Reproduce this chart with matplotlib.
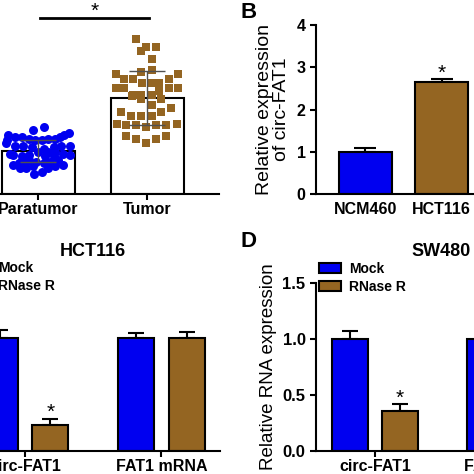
import numpy as np
import matplotlib
matplotlib.use('Agg')
import matplotlib.pyplot as plt

plt.rcParams['font.family'] = ['Liberation Sans', 'DejaVu Sans']

blue = '#0000F0'
brown = '#946522'

# panel A: individual samples (value, jitter offset)
para_vals = [1.54, 1.47, 1.41, 1.37, 1.37, 1.33, 1.31, 1.31, 1.27, 1.27, 1.27, 1.26, 1.26, 1.26,
             1.19, 1.12, 1.12, 1.10, 1.10, 1.08, 1.08, 1.05, 0.98, 0.98, 0.98, 0.93, 0.93, 0.91,
             0.91, 0.91, 0.88, 0.88, 0.88, 0.79, 0.79, 0.79, 0.75, 0.75, 0.71, 0.71, 0.71, 0.66,
             0.66, 0.64, 0.64, 0.60, 0.60, 0.60, 0.52, 0.47]
para_off = [0.05, -0.05, 0.28, -0.28, 0.24, -0.21, -0.15, 0.20, -0.09, 0.09, 0.15, -0.29, -0.03, 0.03,
            -0.30, -0.21, 0.29, -0.14, 0.21, -0.06, 0.14, 0.05, 0.0, 0.09, 0.15, -0.26, 0.23, -0.23,
            -0.09, 0.29, -0.15, 0.06, 0.14, -0.15, -0.09, 0.18, -0.02, 0.11, -0.18, -0.12, 0.05, -0.23,
            0.23, -0.05, 0.15, -0.17, -0.11, 0.09, 0.03, -0.04]
tumor_vals = [3.58, 3.40, 3.40, 3.31, 3.12, 2.87, 2.82, 2.77, 2.77, 2.67, 2.67, 2.67, 2.57, 2.57, 2.57,
              2.46, 2.46, 2.46, 2.46, 2.38, 2.30, 2.30, 2.30, 2.26, 2.19, 2.19, 2.05, 1.99, 1.89, 1.89,
              1.80, 1.80, 1.80, 1.63, 1.63, 1.60, 1.60, 1.60, 1.60, 1.55, 1.35, 1.35, 1.27, 1.27, 1.18]
tumor_off = [-0.10, -0.01, 0.08, -0.06, 0.04, 0.04, -0.06, -0.29, 0.28, -0.21, -0.13, 0.20, -0.05, 0.04, 0.11,
             -0.29, -0.21, 0.20, 0.28, 0.11, -0.13, -0.06, 0.04, -0.14, 0.13, -0.06, 0.04, 0.22, -0.24, 0.13,
             -0.15, -0.06, 0.04, -0.28, 0.27, -0.19, -0.10, 0.08, 0.17, -0.01, -0.19, 0.17, -0.10, 0.08, -0.01]
a_groups = ['Paratumor', 'Tumor']
a_means = [1.0, 2.22]
a_sd = [0.25, 0.62]

# panel B
b_groups = ['NCM460', 'HCT116']
b_vals = [1.0, 2.64]
b_err = [0.08, 0.08]

# panels C and D
genes = ['circ-FAT1', 'FAT1 mRNA']
c_mock = [1.0, 1.0]
c_mock_err = [0.07, 0.05]
c_rnase = [0.23, 1.0]
c_rnase_err = [0.05, 0.06]
d_mock = [1.0, 1.0]
d_mock_err = [0.07, 0.05]
d_rnase = [0.36, 1.0]
d_rnase_err = [0.06, 0.06]

W = 474.0
fig = plt.figure(figsize=(4.74, 4.74), dpi=100)


def rect(left, top, right, bottom):
    return [left / W, 1 - bottom / W, (right - left) / W, (bottom - top) / W]


def style(ax, left_spine=True):
    ax.spines['top'].set_visible(False)
    ax.spines['right'].set_visible(False)
    ax.spines['left'].set_visible(left_spine)
    for s in ax.spines.values():
        s.set_linewidth(1.5)
    ax.tick_params(direction='out', length=4, width=1.5)
    ax.set_facecolor('none')


# ---- A
axA = fig.add_axes(rect(-27, -0.5, 219, 194))
style(axA, left_spine=False)
x = np.arange(2)
axA.bar(x, a_means, width=0.67, color='white', edgecolor='black', linewidth=1.5, zorder=1)
axA.scatter(x[0] + np.array(para_off), para_vals, s=42, color=blue, marker='o', zorder=2, linewidths=0)
axA.scatter(x[1] + np.array(tumor_off), tumor_vals, s=34, color=brown, marker='s', zorder=2, linewidths=0)
axA.errorbar(x, a_means, yerr=a_sd, fmt='none', ecolor='#505050', elinewidth=1, capsize=13, capthick=1, zorder=3)
axA.set_xlim(-0.6, 1.66)
axA.set_ylim(0, 4.5)
axA.set_yticks([])
axA.set_xticks(x)
axA.set_xticklabels(a_groups, fontsize=11.5, fontweight='bold')
axA.tick_params(axis='x', pad=2)
axA.plot([0.02, 1.02], [4.07, 4.07], color='black', lw=2, clip_on=False)
axA.text(0.52, 4.1, '*', ha='center', va='baseline', fontsize=15, clip_on=False)

# ---- B
axB = fig.add_axes(rect(316, 25, 480, 194))
style(axB)
axB.bar(x, b_vals, width=0.69, color=[blue, brown], edgecolor='black', linewidth=1.5, zorder=1)
axB.errorbar(x, b_vals, yerr=[[0, 0], b_err], fmt='none', ecolor='black', elinewidth=1.5,
             capsize=8, capthick=1.5, zorder=0)
axB.set_xlim(-0.647, 1.5)
axB.set_ylim(0, 4)
axB.set_yticks([0, 1, 2, 3, 4])
axB.set_yticklabels(['0', '1', '2', '3', '4'], fontsize=11.5, fontweight='bold')
axB.set_xticks([])
for xi, lab in zip(x, b_groups):
    axB.text(xi, -0.2, lab, ha='center', va='top', fontsize=11.5, fontweight='bold',
             transform=axB.transData)
axB.set_ylabel('Relative expression\nof circ-FAT1', fontsize=14, labelpad=5, linespacing=1.0)
axB.text(1, 2.72, '*', ha='center', va='baseline', fontsize=15)


def rnase_panel(ax, mock, mock_err, rnase, rnase_err, star_y):
    style(ax)
    off = 0.185
    w = 0.265
    ax.bar(x - off, mock, width=w, color=blue, edgecolor='black', linewidth=1.5, label='Mock', zorder=1)
    ax.bar(x + off, rnase, width=w, color=brown, edgecolor='black', linewidth=1.5, label='RNase R', zorder=1)
    ax.errorbar(x - off, mock, yerr=[[0, 0], mock_err], fmt='none', ecolor='black', elinewidth=1.5,
                capsize=6, capthick=1.5, zorder=0)
    ax.errorbar(x + off, rnase, yerr=[[0, 0], rnase_err], fmt='none', ecolor='black', elinewidth=1.5,
                capsize=6, capthick=1.5, zorder=0)
    ax.set_ylim(0, 1.5)
    ax.set_xticks(x)
    ax.set_xticklabels(genes, fontsize=11.5, fontweight='bold')
    ax.tick_params(axis='x', pad=2)
    ax.text(x[0] + off, star_y, '*', ha='center', va='baseline', fontsize=15)
    ax.legend(loc='upper left', bbox_to_anchor=(0.012, 1.125), frameon=False,
              prop={'weight': 'bold', 'size': 10}, handlelength=1.55, handleheight=0.75,
              handletextpad=0.6, labelspacing=0.3, borderpad=0, borderaxespad=0)


# ---- C
axC = fig.add_axes(rect(-35, 282, 220, 451))
rnase_panel(axC, c_mock, c_mock_err, c_rnase, c_rnase_err, 0.29)
axC.set_xlim(-0.44, 1.43)
axC.set_yticks([0, 0.5, 1.0, 1.5])
axC.set_yticklabels(['0.0', '0.5', '1.0', '1.5'], fontsize=12, fontweight='bold')

# ---- D
axD = fig.add_axes(rect(316, 283, 571, 451))
rnase_panel(axD, d_mock, d_mock_err, d_rnase, d_rnase_err, 0.42)
axD.set_xlim(-0.437, 1.45)
axD.set_yticks([0, 0.5, 1.0, 1.5])
axD.set_yticklabels(['0.0', '0.5', '1.0', '1.5'], fontsize=12, fontweight='bold')
axD.set_ylabel('Relative RNA expression', fontsize=13.5, labelpad=4)

fig.text(93 / W, 1 - 256 / W, 'HCT116', ha='center', va='baseline', fontsize=13, fontweight='bold')
fig.text(441 / W, 1 - 256 / W, 'SW480', ha='center', va='baseline', fontsize=13, fontweight='bold')
fig.text(240 / W, 1 - 18 / W, 'B', ha='left', va='baseline', fontsize=16, fontweight='bold')
fig.text(240 / W, 1 - 247 / W, 'D', ha='left', va='baseline', fontsize=16, fontweight='bold')

fig.savefig('out.png', dpi=100)
